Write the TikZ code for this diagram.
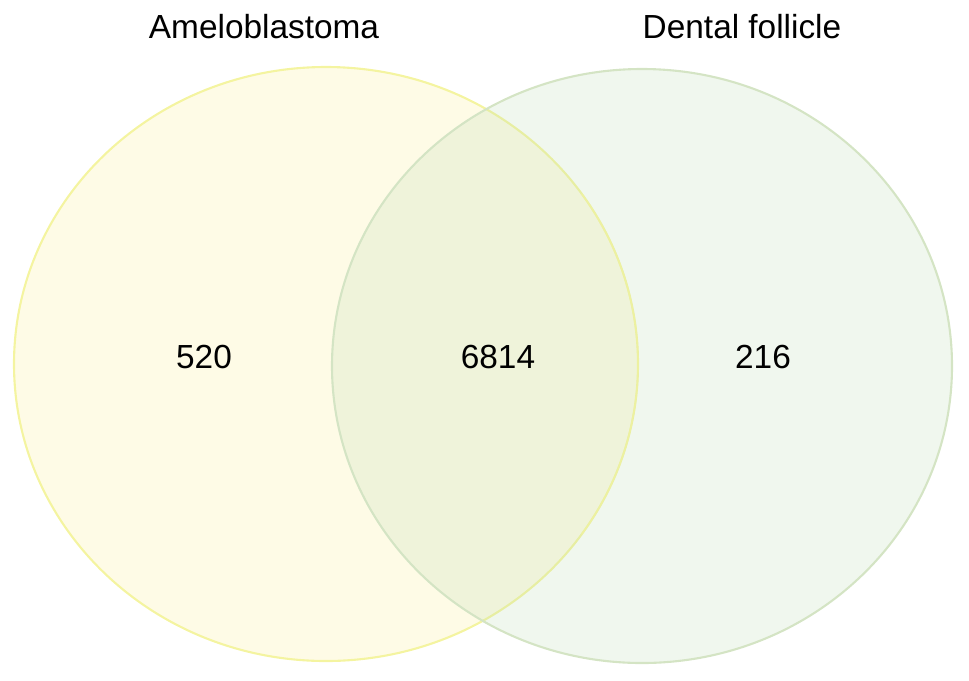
\documentclass[tikz,border=0pt]{standalone}
\usepackage{fontspec}
\setmainfont{Liberation Sans}
\definecolor{amelofill}{RGB}{250,235,130}
\definecolor{ameloline}{RGB}{244,244,160}
\definecolor{dentalfill}{RGB}{180,215,170}
\definecolor{dentalline}{RGB}{212,228,196}
\tikzset{
  setlabel/.style={font=\fontsize{19}{22}\selectfont, anchor=center},
  count/.style={font=\fontsize{19}{22}\selectfont, anchor=center}
}
\begin{document}
\begin{tikzpicture}[x=0.02cm,y=-0.02cm]
\useasboundingbox (0,0) rectangle (969,680);
% Sets (as ellipses): (centre, radii)
\draw[ameloline, line width=1.2, fill=amelofill, fill opacity=0.2] (326,364) ellipse [x radius=312, y radius=297];
\draw[dentalline, line width=1.2, fill=dentalfill, fill opacity=0.2] (642,366) ellipse [x radius=310, y radius=297];
\draw[ameloline, line width=1, draw opacity=0.5] (638,364) arc[start angle=0, end angle=35, x radius=312, y radius=297];
\draw[ameloline, line width=1, draw opacity=0.5] (638,364) arc[start angle=0, end angle=-35, x radius=312, y radius=297];

% Titles
\node[setlabel] (amelo) at (264,27) {Ameloblastoma};
\node[setlabel] (dental) at (742,27) {Dental follicle};

% Counts
\node[count] (onlyamelo) at (204,357) {520};
\node[count] (both) at (498,357) {6814};
\node[count] (onlydental) at (763,357) {216};
\end{tikzpicture}
\end{document}
